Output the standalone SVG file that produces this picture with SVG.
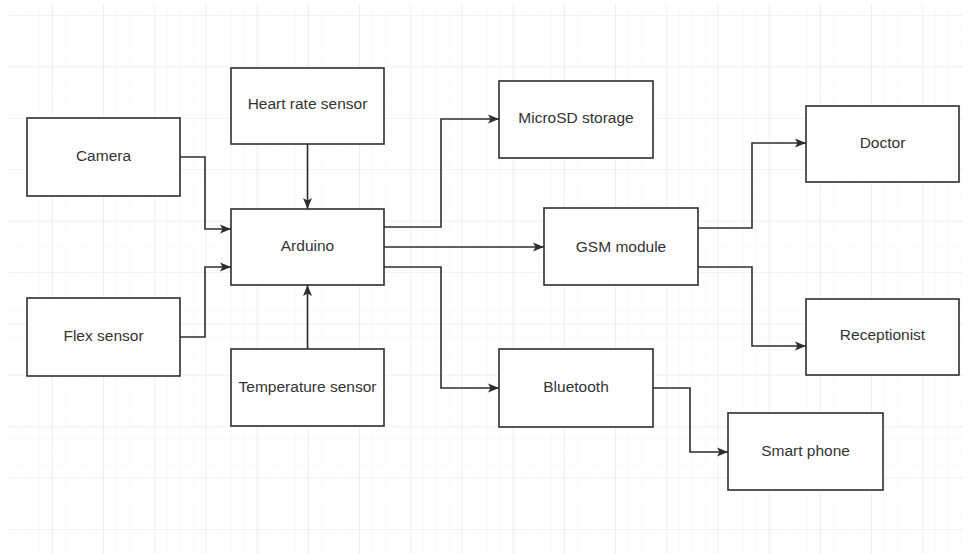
<svg xmlns="http://www.w3.org/2000/svg" width="963" height="554" viewBox="0 0 963 554">
  <style>
    .box { fill: #ffffff; stroke: #2e2e2e; stroke-width: 1.6; }
    .lbl { font-family: "Liberation Sans", Arial, sans-serif; font-size: 15.5px; fill: #333333; text-anchor: middle; }
    .edge { fill: none; stroke: #2e2e2e; stroke-width: 1.6; marker-end: url(#arrow); }
  </style>
  <defs>
    <marker id="arrow" markerUnits="userSpaceOnUse" markerWidth="12" markerHeight="10" viewBox="0 0 12 10" refX="11" refY="5" orient="auto">
      <path d="M0,0.5 L11,5 L0,9.5 L2.5,5 Z" fill="#2e2e2e"/>
    </marker>
    <pattern id="minor" width="12.8" height="12.85" patternUnits="userSpaceOnUse" x="0.6" y="15">
      <path d="M0,0 H12.8 M0,0 V12.85" fill="none" stroke="#f5f5f5" stroke-width="1"/>
    </pattern>
    <pattern id="major" width="51.2" height="51.4" patternUnits="userSpaceOnUse" x="0.6" y="15">
      <path d="M0,0 H51.2 M0,0 V51.4" fill="none" stroke="#e9e9e9" stroke-width="1.2"/>
    </pattern>
  </defs>
  <rect x="0" y="0" width="963" height="554" fill="#ffffff"/>
  <rect x="8" y="4" width="955" height="550" fill="url(#minor)"/>
  <rect x="8" y="4" width="955" height="550" fill="url(#major)"/>

  <g id="connectors">
    <path class="edge" d="M180,157 H205 V229 H231"/>
    <path class="edge" d="M180,337 H205 V267 H231"/>
    <path class="edge" d="M307.5,144 V209"/>
    <path class="edge" d="M307.5,349 V285"/>
    <path class="edge" d="M384,227 H441 V119 H499"/>
    <path class="edge" d="M384,247 H544"/>
    <path class="edge" d="M384,267 H441 V388 H499"/>
    <path class="edge" d="M698,228 H752 V143 H806"/>
    <path class="edge" d="M698,267 H752 V346 H806"/>
    <path class="edge" d="M653,388 H690 V452 H728"/>
  </g>

  <g id="camera">
    <rect class="box" x="27" y="118" width="153" height="78"/>
    <text class="lbl" x="103.5" y="160.5">Camera</text>
  </g>
  <g id="heart-rate-sensor">
    <rect class="box" x="231" y="68" width="153" height="76"/>
    <text class="lbl" x="307.5" y="108.5">Heart rate sensor</text>
  </g>
  <g id="arduino">
    <rect class="box" x="231" y="209" width="153" height="76"/>
    <text class="lbl" x="307.5" y="250.5">Arduino</text>
  </g>
  <g id="flex-sensor">
    <rect class="box" x="27" y="298" width="153" height="78"/>
    <text class="lbl" x="103.5" y="340.5">Flex sensor</text>
  </g>
  <g id="temperature-sensor">
    <rect class="box" x="231" y="349" width="153" height="77"/>
    <text class="lbl" x="307.5" y="391.5">Temperature sensor</text>
  </g>
  <g id="microsd-storage">
    <rect class="box" x="499" y="81" width="154" height="77"/>
    <text class="lbl" x="576" y="122.5">MicroSD storage</text>
  </g>
  <g id="gsm-module">
    <rect class="box" x="544" y="208" width="154" height="77"/>
    <text class="lbl" x="621" y="251.5">GSM module</text>
  </g>
  <g id="bluetooth">
    <rect class="box" x="499" y="349" width="154" height="78"/>
    <text class="lbl" x="576" y="391.5">Bluetooth</text>
  </g>
  <g id="doctor">
    <rect class="box" x="806" y="106" width="153" height="76"/>
    <text class="lbl" x="882.5" y="147.5">Doctor</text>
  </g>
  <g id="receptionist">
    <rect class="box" x="806" y="299" width="153" height="76"/>
    <text class="lbl" x="882.5" y="339.5">Receptionist</text>
  </g>
  <g id="smart-phone">
    <rect class="box" x="728" y="413" width="155" height="77"/>
    <text class="lbl" x="805.5" y="455.5">Smart phone</text>
  </g>
</svg>
